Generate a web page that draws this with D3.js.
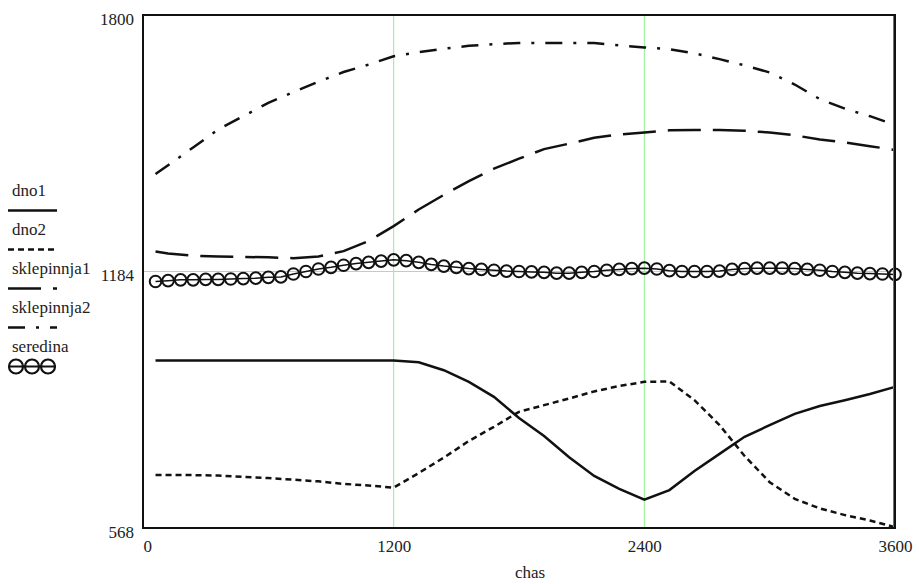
<!DOCTYPE html>
<html>
<head>
<meta charset="utf-8">
<script src="https://cdn.jsdelivr.net/npm/d3@7"></script>
<style>
  body { margin: 0; background: #fff; }
  svg text { font-family: "Liberation Serif", "DejaVu Serif", "Times New Roman", serif; font-size: 17px; fill: #222; }
</style>
</head>
<body>
<div class="chart"></div>
<script>
// time points (s) for the four lines
var time = [60, 120, 240, 360, 480, 600, 720, 840, 960, 1080, 1200, 1320, 1440, 1560, 1680,
            1800, 1920, 2040, 2160, 2280, 2400, 2520, 2640, 2760, 2880, 3000, 3120, 3240,
            3360, 3480, 3600];

var dno1 = [970, 970, 970, 970, 970, 970, 970, 970, 970, 970, 970, 966, 947, 919, 883,
            832, 789, 738, 693, 662, 636, 659, 705, 746, 787, 815, 842, 861, 875, 890, 907];

var dno2 = [695, 695, 695, 694, 691, 688, 684, 680, 674, 670, 665, 700, 737, 777, 811,
            847, 863, 879, 896, 909, 919, 920, 875, 815, 741, 678, 638, 615, 599, 586, 570];

var sklepinnja1 = [1232, 1227, 1222, 1220, 1219, 1218, 1216, 1220, 1233, 1257, 1293, 1333, 1368, 1401, 1431,
                   1455, 1478, 1491, 1505, 1513, 1518, 1523, 1524, 1524, 1522, 1518, 1511, 1501, 1494, 1485, 1476];

var sklepinnja2 = [1418, 1439, 1482, 1525, 1557, 1589, 1615, 1640, 1663, 1681, 1701, 1711, 1719, 1726, 1730,
                   1733, 1733, 1733, 1733, 1727, 1722, 1718, 1708, 1694, 1679, 1662, 1633, 1598, 1575, 1557, 1536];

// seredina is sampled every 60 s
var timeSer = d3.range(60, 3601, 60);
var seredina = [1160, 1162, 1164, 1164, 1165, 1165, 1166, 1167, 1168, 1170,
                1171, 1178, 1184, 1190, 1194, 1199, 1203, 1206, 1209, 1212,
                1210, 1206, 1201, 1197, 1194, 1191, 1189, 1187, 1185, 1184,
                1183, 1182, 1180, 1180, 1182, 1184, 1187, 1189, 1191, 1192,
                1190, 1186, 1184, 1184, 1184, 1185, 1189, 1191, 1192, 1192,
                1192, 1191, 1189, 1187, 1184, 1182, 1180, 1179, 1178, 1177];

var xTicks = [0, 1200, 2400, 3600];
var yTicks = [568, 1184, 1800];
var legendNames = ["dno1", "dno2", "sklepinnja1", "sklepinnja2", "seredina"];

var serif = '"Liberation Serif", "DejaVu Serif", "Times New Roman", serif';

var W = 919, H = 584;
var margin = {top: 15, right: 24, bottom: 56, left: 143},
    width = W - margin.left - margin.right,
    height = H - margin.top - margin.bottom;

var svg = d3.select(".chart").append("svg")
    .attr("width", W)
    .attr("height", H);

var g = svg.append("g")
    .attr("transform", "translate(" + margin.left + "," + margin.top + ")");

var x = d3.scaleLinear().domain([0, 3600]).range([0, width]);
var y = d3.scaleLinear().domain([568, 1800]).range([height, 0]);

var grid = "#8ef08e";

// grid lines
g.selectAll(".vgrid")
    .data([1200, 2400])
    .enter().append("line")
    .attr("x1", function(d){ return x(d); })
    .attr("x2", function(d){ return x(d); })
    .attr("y1", 0).attr("y2", height)
    .style("stroke", grid).style("stroke-width", 1);

g.append("line")
    .attr("x1", 0).attr("x2", width)
    .attr("y1", y(1184)).attr("y2", y(1184))
    .style("stroke", grid).style("stroke-width", 1);

var styles = {
    dno1: "none",
    dno2: "6,4",
    sklepinnja1: "33,12",
    sklepinnja2: "17,11,3,11"
};

var line = d3.line()
    .x(function(d){ return x(d[0]); })
    .y(function(d){ return y(d[1]); });

var series = [
    {name: "dno1", values: dno1},
    {name: "dno2", values: dno2},
    {name: "sklepinnja1", values: sklepinnja1},
    {name: "sklepinnja2", values: sklepinnja2}
];

series.forEach(function(s){
    g.append("path")
        .datum(d3.zip(time, s.values))
        .attr("d", line)
        .style("fill", "none")
        .style("stroke", "#111")
        .style("stroke-width", 2.5)
        .style("stroke-dasharray", styles[s.name]);
});

var ser = d3.zip(timeSer, seredina);
g.append("path")
    .datum(ser)
    .attr("d", line)
    .style("fill", "none")
    .style("stroke", "#111")
    .style("stroke-width", 1.5);

g.selectAll(".pt")
    .data(ser)
    .enter().append("circle")
    .attr("cx", function(d){ return x(d[0]); })
    .attr("cy", function(d){ return y(d[1]); })
    .attr("r", 5.8)
    .style("fill", "none")
    .style("stroke", "#111")
    .style("stroke-width", 2);

// frame
g.append("rect")
    .attr("x", 0).attr("y", 0)
    .attr("width", width).attr("height", height)
    .style("fill", "none")
    .style("stroke", "#111")
    .style("stroke-width", 2);

g.append("line")
    .attr("x1", x(3600) - 1.5).attr("x2", x(3600) - 1.5)
    .attr("y1", 1).attr("y2", height - 1)
    .style("stroke", "#3c9a3c").style("stroke-width", 1);

// axes
var yAxis = g.append("g")
    .call(d3.axisLeft(y).tickValues(yTicks).tickFormat(d3.format("d")).tickSize(0).tickPadding(9));
yAxis.attr("font-family", null).attr("font-size", null);
yAxis.select(".domain").remove();
yAxis.selectAll("text").attr("dy", "0.55em")
    .style("font-family", serif).style("font-size", "17px").style("fill", "#222");

var xAxis = g.append("g")
    .attr("transform", "translate(0," + height + ")")
    .call(d3.axisBottom(x).tickValues(xTicks).tickFormat(d3.format("d")).tickSize(0).tickPadding(12));
xAxis.attr("font-family", null).attr("font-size", null);
xAxis.select(".domain").remove();
xAxis.selectAll("text")
    .style("font-family", serif).style("font-size", "17px").style("fill", "#222")
    .attr("text-anchor", function(d){ return d === 0 ? "start" : "middle"; });

svg.append("text")
    .attr("x", 530).attr("y", 578)
    .attr("text-anchor", "middle")
    .style("font-family", serif)
    .text("chas");

// legend
var legend = svg.selectAll(".leg")
    .data(legendNames)
    .enter().append("g")
    .attr("transform", function(d, i){ return "translate(8," + (196 + i * 39) + ")"; });

legend.append("text")
    .attr("x", 4).attr("y", 0)
    .style("font-family", serif)
    .text(function(d){ return d; });

legend.filter(function(d){ return d !== "seredina"; })
    .append("line")
    .attr("x1", 0).attr("x2", 49)
    .attr("y1", 14.5).attr("y2", 14.5)
    .style("stroke", "#111")
    .style("stroke-width", 2.5)
    .style("stroke-dasharray", function(d){ return styles[d]; });

var legSer = legend.filter(function(d){ return d === "seredina"; });
legSer.append("line")
    .attr("x1", 1).attr("x2", 48)
    .attr("y1", 14.5).attr("y2", 14.5)
    .style("stroke", "#111").style("stroke-width", 1.8);
legSer.selectAll("circle")
    .data([8, 24, 40])
    .enter().append("circle")
    .attr("cx", function(d){ return d; })
    .attr("cy", 14.5)
    .attr("r", 7)
    .style("fill", "none")
    .style("stroke", "#111")
    .style("stroke-width", 2.2);
</script>
</body>
</html>
